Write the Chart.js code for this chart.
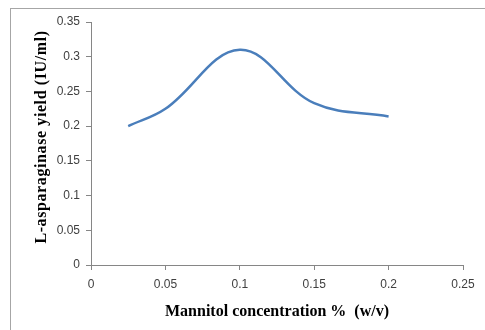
<!DOCTYPE html>
<html>
<head>
<meta charset="utf-8">
<script src="https://cdn.jsdelivr.net/npm/chart.js@4"></script>
<style>
  html, body { margin:0; padding:0; background:#fff; }
  #wrap { position:relative; width:485px; height:330px; overflow:hidden; }
  #frame { position:absolute; left:10px; top:8px; width:480px; height:330px;
           border-left:1px solid #a6a6a6; border-top:1px solid #a6a6a6; }
  canvas { position:absolute; left:0; top:0; }
</style>
</head>
<body>
<div id="wrap">
  <div id="frame"></div>
  <canvas id="c" width="485" height="330"></canvas>
</div>
<script>
const mannitol = [0.025, 0.05, 0.1, 0.15, 0.2];
const yieldValues = [0.200, 0.225, 0.310, 0.233, 0.214];
const xTitle = 'Mannitol concentration %  (w/v)';
const yTitle = 'L-asparaginase yield (IU/ml)';

const points = mannitol.map((x, i) => ({ x: x, y: yieldValues[i] }));

const yTitlePlugin = {
  id: 'yTitlePlugin',
  afterDraw(chart) {
    const ctx = chart.ctx;
    ctx.save();
    ctx.translate(42, 137);
    ctx.rotate(-Math.PI / 2);
    ctx.font = 'bold 16px "Liberation Serif"';
    if ('letterSpacing' in ctx) ctx.letterSpacing = '0.6px';
    ctx.fillStyle = '#000';
    ctx.textAlign = 'center';
    ctx.textBaseline = 'middle';
    ctx.fillText(yTitle, 0, 0);
    ctx.restore();
  }
};

new Chart(document.getElementById('c'), {
  type: 'scatter',
  data: {
    datasets: [{
      data: points,
      showLine: true,
      borderColor: '#4a7ebb',
      borderWidth: 2.5,
      pointRadius: 0,
      tension: 0.38,
      fill: false
    }]
  },
  options: {
    responsive: false,
    animation: false,
    events: [],
    layout: { padding: { top: 22, right: 22, left: 0, bottom: 0 } },
    plugins: { legend: { display: false }, tooltip: { enabled: false } },
    scales: {
      x: {
        type: 'linear', min: 0, max: 0.25,
        grid: { drawOnChartArea: false, drawTicks: true, tickLength: 5, color: '#868686' },
        border: { color: '#868686', width: 1 },
        ticks: { stepSize: 0.05, padding: 7, color: '#404040',
                 font: { family: 'Liberation Sans', size: 12 },
                 callback: v => String(Math.round(v * 100) / 100) },
        title: { display: true, text: xTitle, color: '#000',
                 font: { family: 'Liberation Serif', size: 16, weight: 'bold' },
                 padding: { top: 4, bottom: 9 } },
        afterFit: s => { s.height = 65; }
      },
      y: {
        type: 'linear', min: 0, max: 0.35,
        grid: { drawOnChartArea: false, drawTicks: true, tickLength: 5, color: '#868686' },
        border: { color: '#868686', width: 1 },
        ticks: { stepSize: 0.05, padding: 6, color: '#404040',
                 font: { family: 'Liberation Sans', size: 12 },
                 callback: v => String(Math.round(v * 100) / 100) },
        title: { display: false, text: yTitle },
        afterFit: s => { s.width = 91; }
      }
    }
  },
  plugins: [yTitlePlugin]
});
</script>
</body>
</html>
